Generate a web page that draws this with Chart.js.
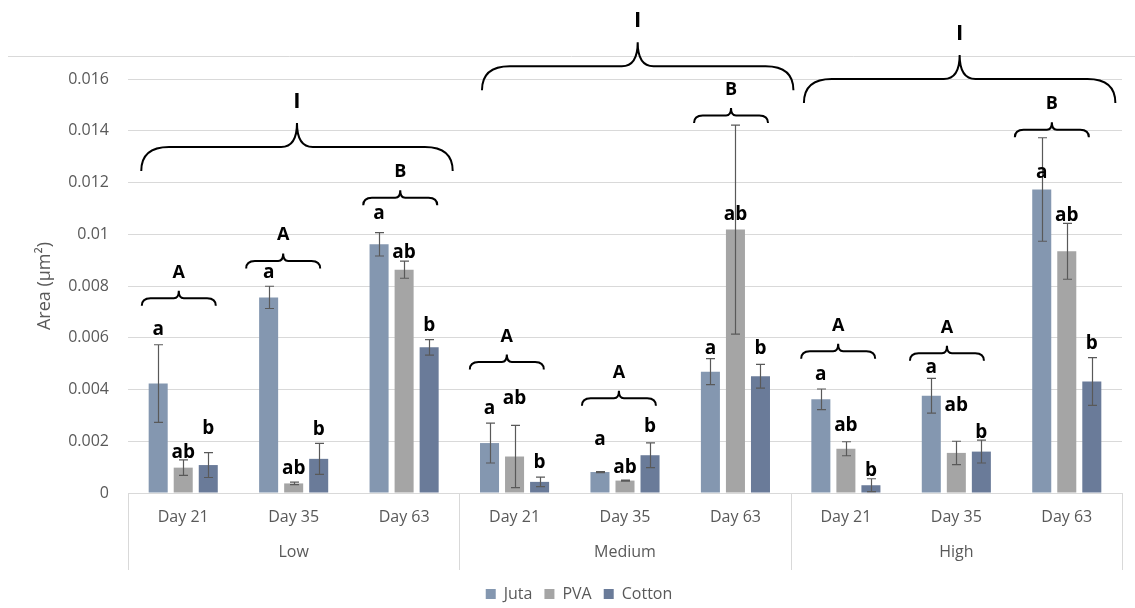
<!DOCTYPE html>
<html><head><meta charset="utf-8">
<script src="https://cdn.jsdelivr.net/npm/chart.js@4.4.1/dist/chart.umd.min.js"></script>
<style>html,body{margin:0;padding:0;background:#fff;}</style>
</head><body>
<canvas id="c" width="1135" height="608"></canvas>
<script>
// ---------- data ----------
const days = ['Day 21', 'Day 35', 'Day 63'];
const levels = ['Low', 'Medium', 'High'];
const categories = ['Low Day 21','Low Day 35','Low Day 63','Medium Day 21','Medium Day 35','Medium Day 63','High Day 21','High Day 35','High Day 63'];
const seriesNames = ['Juta', 'PVA', 'Cotton'];

const juta   = [0.00423, 0.00756, 0.00961, 0.00193, 0.00081, 0.00469, 0.00362, 0.00376, 0.01173];
const pva    = [0.00098, 0.00037, 0.00863, 0.00141, 0.00048, 0.01018, 0.00171, 0.00155, 0.00934];
const cotton = [0.00108, 0.00132, 0.00563, 0.00043, 0.00146, 0.00451, 0.00030, 0.00160, 0.00431];

const jutaErr   = [0.00150, 0.00043, 0.00045, 0.00077, 0.00002, 0.00050, 0.00040, 0.00067, 0.00200];
const pvaErr    = [0.00030, 0.00005, 0.00033, 0.00120, 0.00002, 0.00404, 0.00027, 0.00045, 0.00108];
const cottonErr = [0.00048, 0.00060, 0.00030, 0.00018, 0.00048, 0.00046, 0.00025, 0.00044, 0.00092];

const jutaLetters   = ['a','a','a','a','a','a','a','a','a'];
const pvaLetters    = ['ab','ab','ab','ab','ab','ab','ab','ab','ab'];
const cottonLetters = ['b','b','b','b','b','b','b','b','b'];
// value at which each letter's baseline sits
const jutaLetterAt   = [0.00612, 0.00829, 0.01058, 0.00306, 0.00186, 0.00539, 0.00438, 0.00465, 0.01216];
const pvaLetterAt    = [0.00136, 0.00074, 0.00907, 0.00345, 0.00077, 0.01054, 0.00240, 0.00318, 0.01050];
const cottonLetterAt = [0.00229, 0.00225, 0.00628, 0.00097, 0.00236, 0.00539, 0.00066, 0.00213, 0.00558];

// group (day) braces: letter + value of brace ends
const dayGroupLetters = ['A','A','B','A','A','B','A','A','B'];
const dayGroupBraceAt = [0.00724, 0.00868, 0.01112, 0.00477, 0.00337, 0.01430, 0.00519, 0.00511, 0.01375];
// level braces
const levelLetters = ['I','I','I'];
const levelBraceAt = [0.01244, 0.01557, 0.01507];

const yTicksMin = 0, yTicksMax = 0.016, yTickStep = 0.002;

// ---------- annotation placement (not data) ----------
const dayBraceShift = [-0.04, -0.095, -0.035, -0.07, -0.055, -0.04, -0.07, -0.085, -0.135];
const levelBraceShift = [0.03, 0.115, 0.03];

const colors = ['#8497B0', '#A5A5A5', '#6A7B99'];
const values = [juta, pva, cotton];
const errors = [jutaErr, pvaErr, cottonErr];
const letters = [jutaLetters, pvaLetters, cottonLetters];
const letterAt = [jutaLetterAt, pvaLetterAt, cottonLetterAt];

const FONT = "'Open Sans', 'Noto Sans', sans-serif";
Chart.defaults.font.family = FONT;
Chart.defaults.color = '#595959';

function brace(ctx, cx, halfW, yEnd, h) {
  const yFlat = yEnd - h / 2, yPeak = yEnd - h;
  const r1 = h * 0.58, r2 = h * 0.33;
  ctx.beginPath();
  ctx.moveTo(cx - halfW, yEnd);
  ctx.quadraticCurveTo(cx - halfW, yFlat, cx - halfW + r1, yFlat);
  ctx.lineTo(cx - r2, yFlat);
  ctx.quadraticCurveTo(cx, yFlat, cx, yPeak);
  ctx.quadraticCurveTo(cx, yFlat, cx + r2, yFlat);
  ctx.lineTo(cx + halfW - r1, yFlat);
  ctx.quadraticCurveTo(cx + halfW, yFlat, cx + halfW, yEnd);
  ctx.stroke();
  return yPeak;
}

const legendShift = {
  id: 'legendShift',
  afterLayout(chart) {
    if (chart.legend) { chart.legend.left += 18; chart.legend.right += 18; }
  }
};

const annot = {
  id: 'annot',
  afterDraw(chart) {
    const ctx = chart.ctx, ys = chart.scales.y, xs = chart.scales.x, ca = chart.chartArea;
    const catW = xs.getPixelForValue(1) - xs.getPixelForValue(0);
    ctx.save();
    // top rule
    ctx.strokeStyle = '#D9D9D9'; ctx.lineWidth = 1;
    ctx.beginPath(); ctx.moveTo(8, 56.5); ctx.lineTo(1135, 56.5); ctx.stroke();
    // group separators on the category axis
    const bounds = [ca.left];
    for (let g = 1; g < levels.length; g++) {
      bounds.push((xs.getPixelForValue(g * days.length - 1) + xs.getPixelForValue(g * days.length)) / 2);
    }
    bounds.push(ca.right);
    ctx.beginPath();
    bounds.forEach(bx => { const px = Math.round(bx) + 0.5; ctx.moveTo(px, ca.bottom); ctx.lineTo(px, ca.bottom + 77); });
    ctx.stroke();

    // error bars
    ctx.strokeStyle = '#595959'; ctx.lineWidth = 1.2;
    values.forEach((vals, di) => {
      const meta = chart.getDatasetMeta(di);
      meta.data.forEach((bar, j) => {
        const yt = ys.getPixelForValue(vals[j] + errors[di][j]);
        const yb = ys.getPixelForValue(vals[j] - errors[di][j]);
        const bx = Math.round(bar.x) + 0.5;
        ctx.beginPath();
        ctx.moveTo(bx, yt); ctx.lineTo(bx, yb);
        ctx.moveTo(bx - 4.5, yt); ctx.lineTo(bx + 4.5, yt);
        ctx.moveTo(bx - 4.5, yb); ctx.lineTo(bx + 4.5, yb);
        ctx.stroke();
      });
    });

    // letters above bars
    ctx.fillStyle = '#000'; ctx.textAlign = 'center'; ctx.textBaseline = 'alphabetic';
    ctx.font = 'bold 19px ' + FONT;
    values.forEach((vals, di) => {
      const meta = chart.getDatasetMeta(di);
      meta.data.forEach((bar, j) => {
        ctx.fillText(letters[di][j], bar.x, ys.getPixelForValue(letterAt[di][j]));
      });
    });

    // day-group braces
    ctx.strokeStyle = '#000'; ctx.lineWidth = 2;
    dayGroupBraceAt.forEach((v, j) => {
      const cx = xs.getPixelForValue(j) + dayBraceShift[j] * catW;
      const yPeak = brace(ctx, cx, 0.335 * catW, ys.getPixelForValue(v), 15);
      ctx.font = 'bold 18px ' + FONT;
      ctx.fillText(dayGroupLetters[j], cx, yPeak - 13);
    });
    // level braces
    levelBraceAt.forEach((v, g) => {
      const cx = xs.getPixelForValue(g * days.length + 1) + levelBraceShift[g] * catW;
      const yPeak = brace(ctx, cx, 1.41 * catW, ys.getPixelForValue(v), 48);
      ctx.font = 'bold 22px ' + FONT;
      ctx.fillText(levelLetters[g], cx, yPeak - 15);
    });
    ctx.restore();
  }
};

new Chart(document.getElementById('c'), {
  type: 'bar',
  data: {
    labels: categories,
    datasets: seriesNames.map((n, i) => ({
      label: n,
      data: values[i],
      backgroundColor: colors[i],
      borderWidth: 0,
      categoryPercentage: 0.68,
      barPercentage: 0.76,
      xAxisID: 'x'
    }))
  },
  options: {
    responsive: false,
    animation: false,
    layout: { padding: { top: 79, right: 13, left: 0, bottom: -4 } },
    plugins: {
      tooltip: { enabled: false },
      legend: {
        position: 'bottom',
        labels: { boxWidth: 10, boxHeight: 10, padding: 12, color: '#595959', font: { size: 16 } }
      }
    },
    scales: {
      y: {
        min: yTicksMin, max: yTicksMax,
        ticks: {
          stepSize: yTickStep, padding: 19, color: '#595959', font: { size: 16 },
          callback: v => String(parseFloat(Number(v).toFixed(4)))
        },
        grid: { color: '#D9D9D9', drawTicks: false },
        border: { display: false },
        title: { display: true, text: 'Area (\u00B5m\u00B2)', color: '#595959', font: { size: 18 }, padding: { top: 34, bottom: 0 } },
        afterFit: s => { s.width = 128; }
      },
      x: {
        type: 'category',
        weight: 0,
        ticks: { padding: 15, color: '#595959', font: { size: 16 }, autoSkip: false, maxRotation: 0,
          callback: (v, i) => days[i % days.length] },
        grid: { display: false, drawTicks: false },
        border: { display: true, color: '#D9D9D9' },
        afterFit: s => { s.height = 42; }
      },
      x2: {
        type: 'category',
        position: 'bottom',
        weight: 1,
        labels: levels,
        offset: true,
        ticks: { padding: 8, color: '#595959', font: { size: 16 }, autoSkip: false, maxRotation: 0 },
        grid: { display: false, drawTicks: false },
        border: { display: false },
        afterFit: s => { s.height = 39; }
      }
    }
  },
  plugins: [annot, legendShift]
});
</script>
</body></html>
